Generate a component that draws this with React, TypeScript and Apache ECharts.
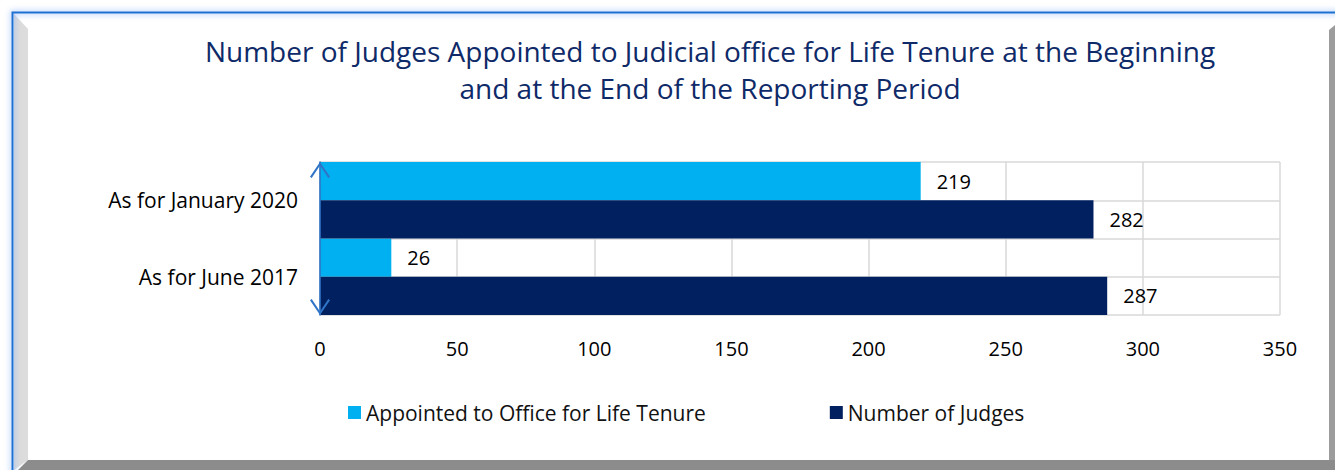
import React, { useEffect, useRef } from "react";
import * as echarts from "echarts";

const categories = ["As for January 2020", "As for June 2017"];
const appointed = [219, 26];
const judges = [282, 287];
const seriesNames = ["Appointed to Office for Life Tenure", "Number of Judges"];
const titleText =
  "Number of Judges Appointed to Judicial office for Life Tenure at the Beginning\nand at the End of the Reporting Period";
const xTicks = { min: 0, max: 350, interval: 50 };
const gridRows = ["r1", "r2", "r3", "r4"];

const FONT = "'Open Sans', 'Noto Sans', sans-serif";

export default function App() {
  const ref = useRef<HTMLDivElement>(null);
  useEffect(() => {
    if (!ref.current) return;
    const chart = echarts.init(ref.current, null, { renderer: "svg" });
    const W = 1335;
    const H = 470;
    const arrow = "path://M10,0 L20,14.8 L18.3,16 L10,3.6 L1.7,16 L0,14.8 Z";
    chart.setOption({
      animation: false,
      backgroundColor: "#ffffff",
      textStyle: { fontFamily: FONT },
      title: {
        text: titleText,
        left: 705,
        textAlign: "center",
        top: 27,
        textStyle: {
          fontFamily: FONT,
          fontSize: 28,
          fontWeight: "normal",
          color: "#0f2a68",
          lineHeight: 37,
        },
      },
      legend: {
        left: 343,
        top: 397,
        icon: "rect",
        itemWidth: 13,
        itemHeight: 13,
        itemGap: 124,
        textStyle: { fontFamily: FONT, fontSize: 21, color: "#111" },
        data: seriesNames,
      },
      grid: { left: 320, right: W - 1280, top: 162, height: 153, containLabel: false },
      xAxis: {
        type: "value",
        min: xTicks.min,
        max: xTicks.max,
        interval: xTicks.interval,
        axisLine: { show: false },
        axisTick: { show: false },
        axisLabel: { fontSize: 20, color: "#000", margin: 23, fontFamily: FONT },
        splitLine: { show: true, lineStyle: { color: "#d9d9d9", width: 1.5 } },
      },
      yAxis: [
        {
          type: "category",
          data: categories,
          inverse: true,
          position: "left",
          axisTick: { show: false },
          axisLine: {
            show: true,
            lineStyle: { color: "#2f74c6", width: 1.6 },
            symbol: [arrow, arrow],
            symbolSize: [20, 16],
            symbolOffset: [8, -8],
          },
          axisLabel: { fontSize: 21, color: "#000", margin: 22, fontFamily: FONT },
          splitLine: { show: false },
          z: 5,
        },
        {
          type: "category",
          data: gridRows,
          position: "left",
          axisLine: { show: false },
          axisTick: { show: false },
          axisLabel: { show: false },
          splitLine: { show: true, lineStyle: { color: "#d9d9d9", width: 1.5 } },
        },
      ],
      series: [
        {
          name: seriesNames[0],
          type: "bar",
          yAxisIndex: 0,
          data: appointed,
          barGap: "0%",
          barCategoryGap: "0%",
          itemStyle: { color: "#00b0f0" },
          label: {
            show: true,
            position: "right",
            distance: 16,
            fontSize: 20,
            color: "#000",
            fontFamily: FONT,
          },
        },
        {
          name: seriesNames[1],
          type: "bar",
          yAxisIndex: 0,
          data: judges,
          barGap: "0%",
          barCategoryGap: "0%",
          itemStyle: { color: "#002060" },
          label: {
            show: true,
            position: "right",
            distance: 16,
            fontSize: 20,
            color: "#000",
            fontFamily: FONT,
          },
        },
      ],
      graphic: [
        {
          type: "polygon",
          silent: true,
          z: 100,
          shape: { points: [[14, 14], [28, 29], [28, 460], [14, 470]] },
          style: { fill: "#dcdcdc" },
        },
        {
          type: "polygon",
          silent: true,
          z: 100,
          shape: { points: [[18, 470], [28, 460], [1335, 460], [1335, 470]] },
          style: { fill: "#8c8c8c" },
        },
        {
          type: "polygon",
          silent: true,
          z: 100,
          shape: { points: [[1329, 30], [1335, 25], [1335, 460], [1329, 460]] },
          style: { fill: "#9c9c9c" },
        },
        {
          type: "rect",
          silent: true,
          z: 101,
          shape: { x: 12.5, y: 12.5, width: W, height: H },
          style: {
            fill: "none",
            stroke: "#1f70d0",
            lineWidth: 2,
            shadowColor: "rgba(90,150,255,0.9)",
            shadowBlur: 6,
          },
        },
      ],
    });
    return () => chart.dispose();
  }, []);
  return (
    <div
      ref={ref}
      style={{ position: "fixed", left: 0, top: 0, width: 1335, height: 470 }}
    />
  );
}
